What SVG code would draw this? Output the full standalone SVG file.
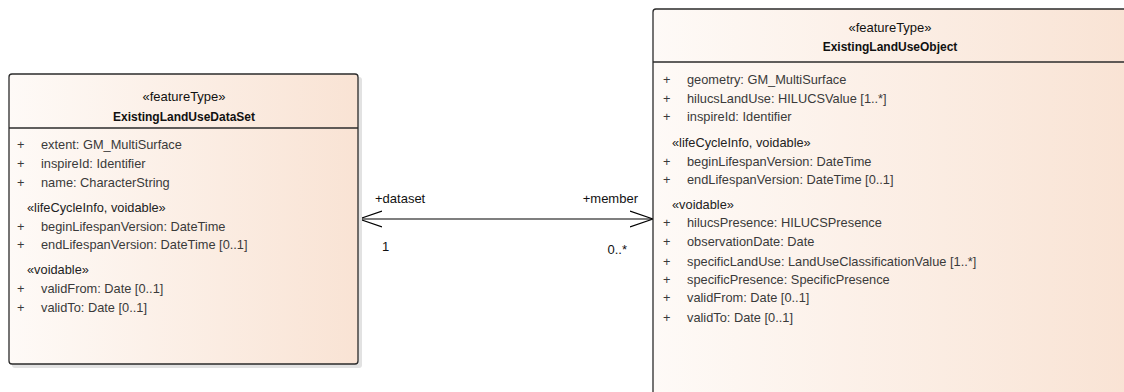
<svg xmlns="http://www.w3.org/2000/svg" width="1124" height="392" viewBox="0 0 1124 392">
<defs>
<linearGradient id="fill" x1="0" y1="0" x2="1" y2="0">
<stop offset="0" stop-color="#fefaf7"/>
<stop offset="1" stop-color="#f9e3d4"/>
</linearGradient>
<marker id="open" viewBox="0 0 24 18" refX="23" refY="9" markerWidth="24" markerHeight="18" markerUnits="userSpaceOnUse" orient="auto-start-reverse">
<path d="M0,1 L23,9 L0,17" fill="none" stroke="#000" stroke-width="1.2"/>
</marker>
</defs>
<style>
.box{fill:url(#fill);stroke:#2b2b2b;stroke-width:1.3}
.shadow{fill:#e2e2e2}
.div{stroke:#2b2b2b;stroke-width:1.3}
text{font-family:"Liberation Sans",Arial,sans-serif;font-size:12.8px}
.st{fill:#111;text-anchor:middle;font-size:13px}
.nm{fill:#111;text-anchor:middle;font-weight:bold;font-size:12px}
.at{fill:#3a3a3a}
.sg{fill:#222}
.lb{fill:#111;font-size:13px}
.conn{stroke:#000;stroke-width:1.2;fill:none}
</style>
<g id="connectors">
<path class="conn" d="M359,219 L653,219" marker-start="url(#open)" marker-end="url(#open)"/>
<text class="lb" x="375" y="203">+dataset</text>
<text class="lb" x="638" y="203" text-anchor="end">+member</text>
<text class="lb" x="382" y="251">1</text>
<text class="lb" x="627" y="254" text-anchor="end">0..*</text>
</g>
<g id="ExistingLandUseDataSet">
<rect class="shadow" x="12" y="77" width="350" height="291" rx="3"/>
<rect class="box" x="9" y="74" width="349" height="290" rx="3"/>
<line class="div" x1="9" y1="128" x2="358" y2="128"/>
<text class="st" x="184" y="101">«featureType»</text>
<text class="nm" x="184" y="121">ExistingLandUseDataSet</text>
<g class="at">
<text x="17" y="149">+</text><text x="41" y="149">extent: GM_MultiSurface</text>
<text x="17" y="168">+</text><text x="41" y="168">inspireId: Identifier</text>
<text x="17" y="187">+</text><text x="41" y="187">name: CharacterString</text>
<text class="sg" x="27" y="212">«lifeCycleInfo, voidable»</text>
<text x="17" y="231">+</text><text x="41" y="231">beginLifespanVersion: DateTime</text>
<text x="17" y="249">+</text><text x="41" y="249">endLifespanVersion: DateTime [0..1]</text>
<text class="sg" x="27" y="274">«voidable»</text>
<text x="17" y="293">+</text><text x="41" y="293">validFrom: Date [0..1]</text>
<text x="17" y="312">+</text><text x="41" y="312">validTo: Date [0..1]</text>
</g>
</g>
<g id="ExistingLandUseObject">
<rect class="box" x="653" y="9" width="480" height="400" rx="3"/>
<line class="div" x1="653" y1="62" x2="1130" y2="62"/>
<text class="st" x="890" y="32">«featureType»</text>
<text class="nm" x="890" y="51">ExistingLandUseObject</text>
<g class="at">
<text x="663" y="84">+</text><text x="687" y="84">geometry: GM_MultiSurface</text>
<text x="663" y="103">+</text><text x="687" y="103">hilucsLandUse: HILUCSValue [1..*]</text>
<text x="663" y="121">+</text><text x="687" y="121">inspireId: Identifier</text>
<text class="sg" x="672" y="147">«lifeCycleInfo, voidable»</text>
<text x="663" y="166">+</text><text x="687" y="166">beginLifespanVersion: DateTime</text>
<text x="663" y="184">+</text><text x="687" y="184">endLifespanVersion: DateTime [0..1]</text>
<text class="sg" x="672" y="209">«voidable»</text>
<text x="663" y="227">+</text><text x="687" y="227">hilucsPresence: HILUCSPresence</text>
<text x="663" y="246">+</text><text x="687" y="246">observationDate: Date</text>
<text x="663" y="266">+</text><text x="687" y="266">specificLandUse: LandUseClassificationValue [1..*]</text>
<text x="663" y="284">+</text><text x="687" y="284">specificPresence: SpecificPresence</text>
<text x="663" y="302">+</text><text x="687" y="302">validFrom: Date [0..1]</text>
<text x="663" y="322">+</text><text x="687" y="322">validTo: Date [0..1]</text>
</g>
</g>
</svg>
